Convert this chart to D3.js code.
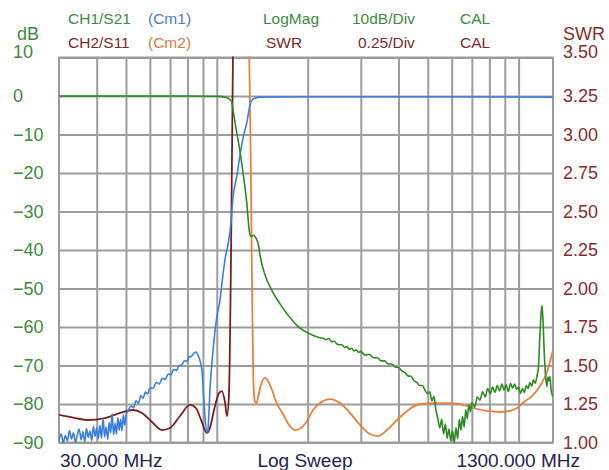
<!DOCTYPE html>
<html>
<head>
<meta charset="utf-8">
<script src="https://cdn.jsdelivr.net/npm/d3@7"></script>
<style>
  body { margin: 0; background: #fff; }
  svg { font-family: "Liberation Sans", Arial, sans-serif; }
</style>
</head>
<body>
<div id="chart"></div>
<script>

// frequency grid (MHz) and axis ticks
var xGridMHz = [40, 50, 60, 70, 80, 90, 100, 200, 300, 400, 500, 600, 700, 800, 900, 1000];
var dbTicks = [10, 0, -10, -20, -30, -40, -50, -60, -70, -80, -90];
var swrTicks = [3.50, 3.25, 3.00, 2.75, 2.50, 2.25, 2.00, 1.75, 1.50, 1.25, 1.00];

// CH1/S21 LogMag (dB)
var s21Freq = [30, 50, 80, 95, 102, 106.4, 109, 112, 113.4, 116.3, 119.4, 122.4, 125.6, 128.2, 129.6, 132.3, 135, 137.4, 139,
  144.5, 152, 162, 172.6, 188.7, 203.6, 219.7,
  225, 230, 235, 240, 245, 250, 255, 260, 265, 270, 275, 280, 285, 290, 295, 300,
  310, 320, 330, 340, 350, 360, 370, 380, 390, 400, 410, 420, 430, 440, 450, 460, 470, 480, 490, 500,
  508, 516, 524, 532, 540, 548, 556, 564, 572, 580, 588, 596, 604, 612, 620, 628, 636, 644, 652, 660, 668, 676, 684, 692, 700,
  715, 730, 745, 760, 775, 790, 805, 820, 835, 850, 865, 880, 895, 910, 925, 940, 955, 970, 985, 1000,
  1015, 1030, 1045, 1060, 1075, 1090, 1105, 1120, 1135, 1150, 1163, 1175, 1185, 1195, 1205, 1215, 1228, 1240, 1250, 1260, 1270, 1280, 1290, 1300];
var s21Db = [0, 0, 0, -0.05, -0.1, -0.3, -0.6, -1.5, -4.0, -9.3, -14.5, -20.5, -27.5, -35.2, -36.5, -36.2, -37.0, -38.7, -41.3,
  -46.5, -50.4, -54.0, -57.0, -60.3, -61.8, -62.8,
  -62.9, -63.3, -63.0, -63.8, -63.7, -64.4, -64.6, -64.6, -65.3, -65.1, -65.8, -65.5, -66.2, -65.9, -66.6, -66.4,
  -67.3, -67.1, -68.0, -68.0, -68.8, -68.8, -69.6, -69.6, -70.4, -70.5, -71.4, -71.8, -72.7, -72.8, -73.9, -74.4, -75.2, -75.2, -76.5, -77.3,
  -76.8, -79.2, -78.0, -81.5, -83.8, -86.2, -84.0, -87.8, -85.2, -88.9, -86.5, -89.6, -87.0, -90.0, -86.2, -89.0, -84.0, -86.8, -83.2, -86.0, -81.5, -83.8, -80.2, -82.0, -79.6,
  -80.8, -78.2, -79.0, -76.8, -78.2, -76.0, -77.4, -75.6, -77.0, -75.2, -76.6, -74.8, -76.4, -75.0, -76.8, -74.6, -75.9, -74.8, -76.2, -75.6,
  -77.2, -76.0, -77.0, -75.2, -76.0, -74.4, -75.4, -73.8, -74.6, -72.8, -70.5, -63.0, -57.5, -54.3, -58.5, -66.0, -72.5, -75.5, -73.0, -74.0, -72.8, -76.0, -77.5, -78.0];

// (Cm1) LogMag (dB)
var cm1Freq = [30, 30.5, 31, 31.5, 32, 32.5, 33, 33.5, 34, 34.5, 35, 35.5, 36, 36.5, 37, 37.5, 38, 38.5, 39, 39.5,
  40, 40.5, 41, 41.5, 42, 42.5, 43, 43.5, 44, 44.5, 45, 45.5, 46, 46.5, 47, 47.5, 48, 48.5, 49, 49.5, 50,
  51, 52, 53, 54, 55, 56, 57, 58, 59, 60, 61.5, 63, 64.5, 66, 67.5, 69, 70.5, 72, 73.5, 75, 76.5, 78, 79.5, 81, 82.5, 84, 85.5,
  86.6, 89.3, 90, 91.4, 92.8, 93.5, 94.2, 94.9, 97.2, 100, 102.5, 104, 107.2, 108.9, 111.5, 113.1, 116.7, 119.4, 122.1, 125.9, 128.8, 131.8,
  139, 200, 500, 1300];
var cm1Db = [-89.5, -87.8, -90.0, -88.2, -89.6, -86.9, -89.1, -87.5, -90.0, -88.0, -86.5, -89.3, -87.2, -89.8, -86.4, -88.7, -87.0, -89.5, -85.8, -88.4,
  -86.2, -89.0, -85.5, -88.9, -83.8, -88.5, -86.0, -89.2, -84.8, -87.5, -82.5, -88.0, -85.0, -87.8, -83.5, -86.8, -84.0, -87.0, -82.8, -85.5, -83.0,
  -81.5, -80.5, -81.0, -79.2, -79.8, -77.8, -78.5, -76.9, -77.4, -75.8, -75.9, -74.4, -74.8, -73.3, -73.6, -72.2, -72.4, -71.0, -71.3, -70.0, -69.9, -68.8, -68.9, -67.8, -67.6, -66.8, -66.5,
  -67.3, -71.2, -75.0, -83.5, -87.3, -86.5, -82.0, -76.4, -66.0, -57.4, -53.0, -48.6, -41.0, -38.7, -32.7, -26.5, -20.5, -15.3, -11.0, -6.7, -2.3, -0.8,
  -0.3, -0.2, -0.2, -0.3];

// CH2/S11 SWR
var s11Freq = [30, 33.9, 37.4, 42.6, 47.8, 52.8, 56.5, 61, 65.8, 70, 75.5, 81.5, 85.3, 88.7, 92.8, 94.9, 97.9, 101.7, 104, 106.4, 108.1, 109.7, 111.5, 113.1, 115.7, 119.4, 130];
var s11Swr = [1.179, 1.159, 1.146, 1.159, 1.192, 1.211, 1.192, 1.133, 1.081, 1.094, 1.172, 1.244, 1.224, 1.146, 1.062, 1.094, 1.211, 1.321, 1.334, 1.263, 1.172, 1.308, 2.25, 3.50, 6.0, 12.0, 20.0];

// (Cm2) SWR
var cm2Freq = [100, 124, 128.1, 129.5, 130.5, 131.5, 132.5, 133.9, 135.4, 137.5, 140.1, 144.5, 147.8, 152.4, 158.3, 165.7, 173.5, 181.6, 190.1, 199,
  208.4, 219.7, 237.1, 255.9, 276.2, 298.1, 321.7, 342, 366.4, 395.5, 426.8, 471.1, 520.5, 579.2, 639.2, 705.8, 785.4, 867.2, 936, 987.9, 1042, 1116, 1176.6, 1242, 1300];
var cm2Swr = [20.0, 6.0, 3.50, 2.87, 2.22, 1.67, 1.34, 1.263, 1.256, 1.308, 1.373, 1.419, 1.40, 1.341, 1.25, 1.185, 1.114, 1.081, 1.094, 1.140,
  1.211, 1.256, 1.282, 1.256, 1.192, 1.114, 1.055, 1.042, 1.081, 1.146, 1.205, 1.25, 1.256, 1.256, 1.250, 1.224, 1.205, 1.198, 1.205, 1.224, 1.263, 1.308, 1.367, 1.458, 1.60];

var W = 609, H = 470;
var plotL = 59, plotR = 553, plotT = 57.5, plotB = 442.5;

var svg = d3.select("#chart").append("svg").attr("width", W).attr("height", H);

var x = d3.scaleLog().domain([30, 1300]).range([plotL, plotR]);
var yDb = d3.scaleLinear().domain([-90, 10]).range([plotB, plotT]);
var ySwr = d3.scaleLinear().domain([1.0, 3.5]).range([plotB, plotT]);

svg.append("rect").attr("x", plotL).attr("y", plotT).attr("width", plotR - plotL).attr("height", plotB - plotT).attr("fill", "#fff");

// grid
var gx = svg.append("g").attr("transform", "translate(0," + plotB + ")")
  .call(d3.axisBottom(x).tickValues(xGridMHz).tickSize(-(plotB - plotT)).tickFormat(""));
var gy = svg.append("g").attr("transform", "translate(" + plotL + ",0)")
  .call(d3.axisLeft(yDb).tickValues(dbTicks).tickSize(-(plotR - plotL)).tickFormat(""));
svg.selectAll(".domain").remove();
svg.selectAll(".tick line").attr("stroke", "#9c9c9c").attr("stroke-width", 2);

svg.append("rect").attr("x", plotL).attr("y", plotT).attr("width", plotR - plotL).attr("height", plotB - plotT)
  .attr("fill", "none").attr("stroke", "#9c9c9c").attr("stroke-width", 2);

svg.append("clipPath").attr("id", "plotclip").append("rect")
  .attr("x", plotL).attr("y", plotT - 1).attr("width", plotR - plotL).attr("height", plotB - plotT + 2);

var plot = svg.append("g").attr("clip-path", "url(#plotclip)");

function drawTrace(freqs, vals, yScale, color, width, curve) {
  var pts = freqs.map(function (f, i) { return [f, vals[i]]; });
  plot.append("path")
    .datum(pts)
    .attr("fill", "none")
    .attr("stroke", color)
    .attr("stroke-width", width)
    .attr("stroke-linejoin", "round")
    .attr("d", d3.line().curve(curve).x(function (d) { return x(d[0]); }).y(function (d) { return yScale(d[1]); }));
}

drawTrace(s11Freq, s11Swr, ySwr, "#7a1f1f", 1.8, d3.curveMonotoneX);
drawTrace(cm2Freq, cm2Swr, ySwr, "#e8803c", 1.8, d3.curveMonotoneX);
drawTrace(cm1Freq, cm1Db, yDb, "#3a7fe0", 1.6, d3.curveMonotoneX);
drawTrace(s21Freq, s21Db, yDb, "#2e8a22", 1.6, d3.curveMonotoneX);

// left axis labels
var la = svg.append("g").attr("transform", "translate(13,0)")
  .call(d3.axisLeft(yDb).tickValues(dbTicks).tickSize(0).tickFormat(d3.format("d")));
la.select(".domain").remove();
la.selectAll("text").attr("x", 0).attr("text-anchor", "start").attr("fill", "#3d8b3d")
  .style("font-size", "18px").style("font-family", "Liberation Sans, Arial, sans-serif")
  .attr("dy", function (d) { return d === 10 ? "0.02em" : "0.32em"; });

// right axis labels
var ra = svg.append("g").attr("transform", "translate(563,0)")
  .call(d3.axisRight(ySwr).tickValues(swrTicks).tickSize(0).tickFormat(d3.format(".2f")));
ra.select(".domain").remove();
ra.selectAll("text").attr("x", 0).attr("text-anchor", "start").attr("fill", "#8b2b2b")
  .style("font-size", "18px").style("font-family", "Liberation Sans, Arial, sans-serif")
  .attr("dy", function (d) { return d === 3.5 ? "0.02em" : "0.32em"; });

function label(txt, px, py, color, size, anchor) {
  svg.append("text").attr("x", px).attr("y", py).attr("fill", color)
    .attr("text-anchor", anchor || "start").style("font-size", size + "px").text(txt);
}

label("dB", 17, 40, "#3d8b3d", 18);
label("SWR", 563, 40, "#8b2b2b", 18);

// header
label("CH1/S21", 68, 24, "#3d8b3d", 15.5);
label("(Cm1)", 148, 24, "#4a78c8", 15.5);
label("LogMag", 263, 24, "#3d8b3d", 15.5);
label("10dB/Div", 352, 24, "#3d8b3d", 15.5);
label("CAL", 460, 24, "#3d8b3d", 15.5);
label("CH2/S11", 68, 48, "#7b2a2a", 15.5);
label("(Cm2)", 148, 48, "#d67a3c", 15.5);
label("SWR", 266, 48, "#7b2a2a", 15.5);
label("0.25/Div", 358, 48, "#7b2a2a", 15.5);
label("CAL", 460, 48, "#7b2a2a", 15.5);

// footer
label("30.000 MHz", 60, 467, "#23234f", 19);
label("Log Sweep", 305, 467, "#23234f", 19, "middle");
label("1300.000 MHz", 580, 467, "#23234f", 19, "end");

</script>
</body>
</html>
